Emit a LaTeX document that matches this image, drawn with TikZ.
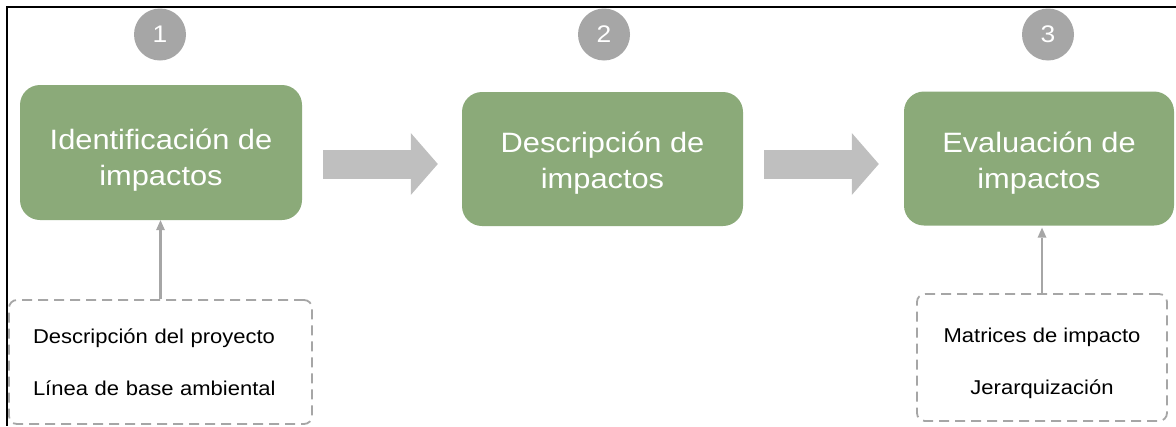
\documentclass[tikz,border=0pt]{standalone}
\usepackage{fontspec}
\setmainfont{Liberation Sans}[FakeStretch=1.1]
\usepackage{xcolor}
\usepackage{tikz}
\usetikzlibrary{arrows.meta,positioning,calc}

\definecolor{stagegreen}{RGB}{139,170,121}
\definecolor{flowgray}{RGB}{191,191,191}
\definecolor{markgray}{RGB}{166,166,166}

\begin{document}
\begin{tikzpicture}[x=1pt,y=-1pt,
  stage/.style={fill=stagegreen, rounded corners=20pt, minimum height=134pt, inner sep=0pt},
  stagetext/.style={text=white, align=center, inner sep=0pt, font=\fontsize{28}{36}\selectfont},
  badge/.style={circle, fill=markgray, text=white, minimum size=52pt, inner sep=0pt,
    font=\fontsize{24}{24}\selectfont},
  inputs/.style={draw=markgray, line width=1.8pt, dash pattern=on 10pt off 6pt,
    rounded corners=8pt, inner sep=0pt, font=\fontsize{20}{52}\selectfont},
  flow/.style={flowgray, line width=29pt, -{Triangle[length=27pt,width=62pt,line width=0pt]}},
  feed/.style={markgray, line width=2.5pt, -{Triangle[length=10pt,width=9pt,line width=0pt]}}]
  \useasboundingbox (0,0) rectangle (1176,426);

  % frame
  \draw[line width=2.5pt] (1176,7) -- (7,7) -- (7,426);

  % stages
  \node[stage, minimum width=282pt, minimum height=135pt] (idn) at (161,152.5) {};
  \node[stage, minimum width=281pt] (des) at (602.5,159) {};
  \node[stage, minimum width=270pt] (eva) at (1039,158.5) {};
  \node[stagetext] (idnt) at ([yshift=-7.5pt]idn.center) {Identificación de\\impactos};
  \node[stagetext] (dest) at ([yshift=-4.5pt]des.center) {Descripción de\\impactos};
  \node[stagetext] (evat) at ([yshift=-4.5pt]eva.center) {Evaluación de\\impactos};

  \node[badge] (n1) at (160,34.5) {1};
  \node[badge] (n2) at (604,34.5) {2};
  \node[badge] (n3) at (1048,34.5) {3};

  % inputs
  \node[inputs, minimum width=303pt, minimum height=124pt, text width=255pt, align=left]
    (inA) at (160.5,362) {Descripción del proyecto\\Línea de base ambiental};
  \node[inputs, minimum width=250pt, minimum height=127pt] (inB) at (1042,357.5) {};
  \node[inputs, draw=none, align=center] (inBt) at ([yshift=-6pt]inB.center)
    {Matrices de impacto\\Jerarquización};

  % arrows
  \coordinate (ay) at (0,164);
  \draw[flow] ([xshift=21pt]idn.east |- ay) -- ([xshift=-24pt]des.west |- ay);
  \draw[flow] ([xshift=21pt]des.east |- ay) -- ([xshift=-25pt]eva.west |- ay);
  \draw[feed] (inA.north) -- (inA.north |- idn.south);
  \draw[feed] (inB.north) -- ([yshift=-2pt]inB.north |- eva.south);
\end{tikzpicture}
\end{document}
